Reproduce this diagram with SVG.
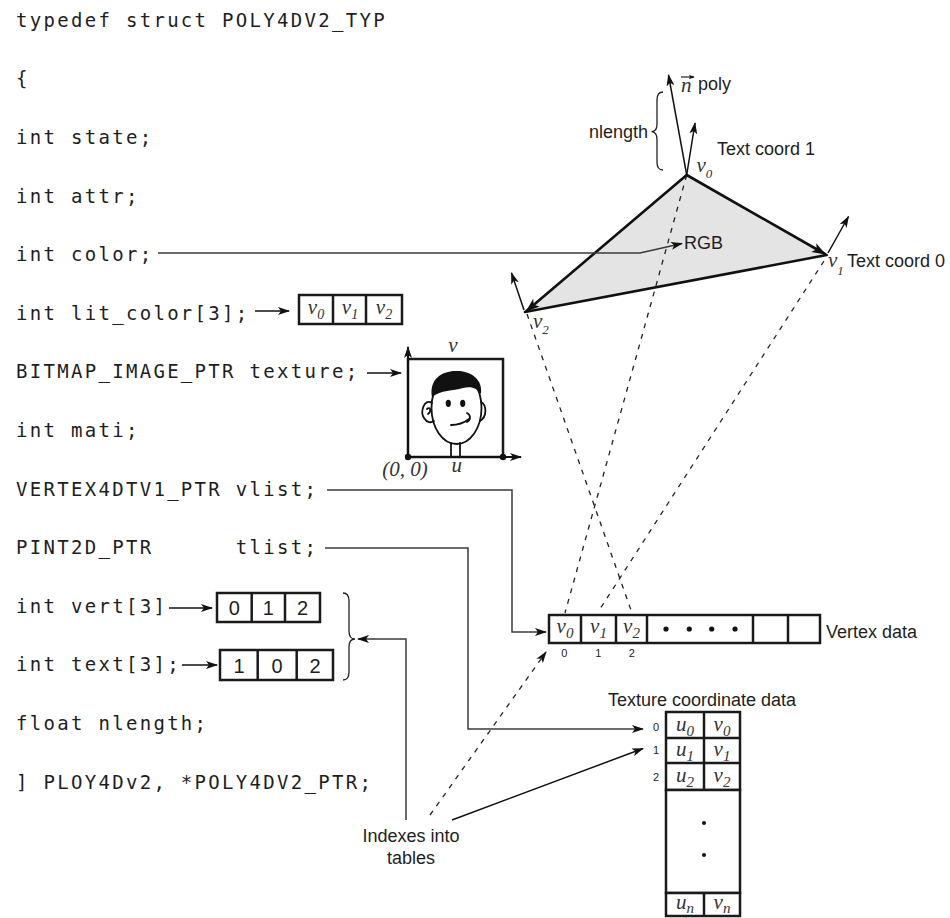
<svg xmlns="http://www.w3.org/2000/svg" width="950" height="918" viewBox="0 0 950 918">
  <style>
    .code { font-family: "DejaVu Sans Mono", "Liberation Mono", monospace; font-size: 19px; letter-spacing: 2.3px; fill: #1e1e1e; white-space: pre; }
    .lbl { font-family: "Liberation Sans", Arial, sans-serif; font-size: 18px; fill: #1e1e1e; }
    .idx { font-family: "Liberation Sans", Arial, sans-serif; font-size: 11px; fill: #222; text-anchor: middle; }
    .num { font-family: "Liberation Sans", Arial, sans-serif; font-size: 20px; fill: #1e1e1e; text-anchor: middle; }
    .var { font-family: "Liberation Serif", "Times New Roman", serif; font-style: italic; font-size: 21px; fill: #333; }
    .cell { text-anchor: middle; }
    .box { fill: #fff; stroke: #1a1a1a; stroke-width: 2.5; }
    .div { stroke: #1a1a1a; stroke-width: 2.5; }
    .wire { fill: none; stroke: #3a3a3a; stroke-width: 1.5; }
    .arr { fill: none; stroke: #111; stroke-width: 1.5; marker-end: url(#ah); }
    .dash { fill: none; stroke: #222; stroke-width: 1.3; stroke-dasharray: 5 6; }
    .edge { stroke: #111; stroke-width: 2.6; stroke-linecap: round; }
    .face { fill: none; stroke: #111; stroke-width: 1.8; stroke-linecap: round; }
  </style>
  <defs>
    <marker id="ah" viewBox="0 0 12 8" refX="11" refY="4" markerWidth="12" markerHeight="8" orient="auto" markerUnits="userSpaceOnUse">
      <path d="M0,0 L12,4 L0,8 L3,4 Z" fill="#111"/>
    </marker>
    <marker id="ahb" viewBox="0 0 14 10" refX="13" refY="5" markerWidth="14" markerHeight="10" orient="auto" markerUnits="userSpaceOnUse">
      <path d="M0,0 L14,5 L0,10 L3.5,5 Z" fill="#111"/>
    </marker>
    <marker id="ahs" viewBox="0 0 8 6" refX="7" refY="3" markerWidth="6" markerHeight="5" orient="auto" markerUnits="userSpaceOnUse">
      <path d="M0,0 L8,3 L0,6 L2,3 Z" fill="#111"/>
    </marker>
  </defs>

  <!-- struct declaration -->
  <g id="code">
    <text class="code" x="16" y="26.7">typedef struct POLY4DV2_TYP</text>
    <text class="code" x="16" y="85.3">{</text>
    <text class="code" x="16" y="143.9">int state;</text>
    <text class="code" x="16" y="202.5">int attr;</text>
    <text class="code" x="16" y="261.1">int color;</text>
    <text class="code" x="16" y="319.7">int lit_color[3];</text>
    <text class="code" x="16" y="378.3">BITMAP_IMAGE_PTR texture;</text>
    <text class="code" x="16" y="436.9">int mati;</text>
    <text class="code" x="16" y="495.5">VERTEX4DTV1_PTR vlist;</text>
    <text class="code" x="16" y="554.1">PINT2D_PTR      tlist;</text>
    <text class="code" x="16" y="612.7">int vert[3]</text>
    <text class="code" x="16" y="671.3">int text[3];</text>
    <text class="code" x="16" y="729.9">float nlength;</text>
    <text class="code" x="16" y="788.5">] PLOY4Dv2, *POLY4DV2_PTR;</text>
  </g>

  <!-- triangle with vertex normals -->
  <g id="polygon">
    <polygon points="686.7,175 826.7,255 525,312" fill="#e4e4e4"/>
    <line class="dash" x1="686.7" y1="175" x2="565" y2="613"/>
    <line class="dash" x1="824" y1="261" x2="600" y2="609"/>
    <line class="dash" x1="527" y1="314" x2="632" y2="613"/>
    <line class="edge" x1="826.7" y1="255" x2="525" y2="312"/>
    <line class="edge" x1="686.7" y1="175" x2="825" y2="254" marker-end="url(#ahb)"/>
    <line class="edge" x1="686.7" y1="175" x2="526.5" y2="311" marker-end="url(#ahb)"/>
    <line class="arr" x1="686.7" y1="175" x2="668.5" y2="75"/>
    <line class="arr" x1="686.7" y1="175" x2="695" y2="123"/>
    <line class="arr" x1="828" y1="253" x2="848.5" y2="216.5"/>
    <line class="arr" x1="524" y1="310" x2="511.5" y2="273"/>
    <path d="M663,92 Q657,92 657,100 L657,124 Q657,131.5 651.5,131.7 Q657,132 657,139.5 L657,162 Q657,170 663,170" fill="none" stroke="#222" stroke-width="1.3"/>
    <text class="lbl" x="648" y="137.5" text-anchor="end">nlength</text>
    <line x1="681" y1="77" x2="694" y2="77" stroke="#111" stroke-width="1.1" marker-end="url(#ahs)"/>
    <text class="var" x="681" y="92" font-size="20">n</text>
    <text class="lbl" x="698" y="90">poly</text>
    <text class="lbl" x="717" y="155">Text coord 1</text>
    <text class="lbl" x="847" y="267">Text coord 0</text>
    <text class="lbl" x="684" y="248.5">RGB</text>
    <text class="var" x="696.5" y="172" font-size="18">v<tspan dy="6" font-size="13">0</tspan></text>
    <text class="var" x="828" y="267" font-size="18">v<tspan dy="8" font-size="13">1</tspan></text>
    <text class="var" x="533" y="328" font-size="18">v<tspan dy="6" font-size="13">2</tspan></text>
  </g>

  <!-- connectors -->
  <g id="connectors">
    <polyline class="wire" points="158,253 640,253 682,243.5" marker-end="url(#ah)"/>
    <line class="arr" x1="255" y1="311" x2="289" y2="311"/>
    <line class="arr" x1="367" y1="373" x2="401" y2="373"/>
    <line class="arr" x1="169" y1="608" x2="212" y2="608"/>
    <line class="arr" x1="182" y1="665" x2="217" y2="665"/>
    <polyline class="wire" points="327,490 512,490 512,632 546,632" marker-end="url(#ah)"/>
    <polyline class="wire" points="325,548 468,548 468,729 643,729" marker-end="url(#ah)"/>
    <polyline class="wire" points="406,820 406,639 358,639" marker-end="url(#ah)"/>
    <line class="arr" x1="452" y1="820" x2="643" y2="748.5"/>
    <line class="dash" x1="430" y1="815" x2="546" y2="652" marker-end="url(#ah)"/>
  </g>

  <!-- lit_color array -->
  <g id="lit-color">
    <rect class="box" x="299" y="295" width="103" height="29"/>
    <line class="div" x1="333" y1="295" x2="333" y2="324"/>
    <line class="div" x1="366" y1="295" x2="366" y2="324"/>
    <text class="var cell" x="316" y="314" font-size="19">v<tspan dy="5" font-size="14">0</tspan></text>
    <text class="var cell" x="350" y="314" font-size="19">v<tspan dy="5" font-size="14">1</tspan></text>
    <text class="var cell" x="384" y="314" font-size="19">v<tspan dy="5" font-size="14">2</tspan></text>
  </g>

  <!-- texture bitmap -->
  <g id="texture">
    <rect class="box" x="408" y="359" width="95" height="98"/>
    <line x1="408" y1="457" x2="408" y2="347" stroke="#111" stroke-width="2" marker-end="url(#ah)"/>
    <line x1="408" y1="457" x2="521" y2="457" stroke="#111" stroke-width="2" marker-end="url(#ah)"/>
    <circle cx="408" cy="457" r="3.2" fill="#111"/>
    <circle cx="503" cy="457" r="3.2" fill="#111"/>
    <ellipse class="face" cx="456.5" cy="408" rx="25" ry="36"/>
    <path d="M432,397 C429,380 441,371 456,371 C471,371 483,379 481,394 C477,388 471,386 463,388 C453,391 441,390 432,397 Z" fill="#111"/>
    <ellipse cx="448.3" cy="403.3" rx="2.6" ry="3.6" fill="#111"/>
    <ellipse cx="462.7" cy="403.3" rx="2.6" ry="3.6" fill="#111"/>
    <path class="face" d="M432,403 C424,398 420,412 424,418 C427,423 431,423 434,421"/>
    <path class="face" d="M427,409 C430,406 432,411 428,414"/>
    <path class="face" d="M481,402 C487,405 487,417 480,421"/>
    <path class="face" d="M451,425 C458,425 464,423 469,419"/>
    <path class="face" d="M467,413 C471,415 471,420 467,422"/>
    <line class="face" x1="451" y1="443" x2="451" y2="456"/>
    <line class="face" x1="460" y1="443" x2="460" y2="456"/>
    <text class="var" x="453" y="352" text-anchor="middle" font-size="20">v</text>
    <text class="var" x="456.7" y="472" text-anchor="middle" font-size="20">u</text>
    <text class="var" x="405" y="476" text-anchor="middle" font-size="13" fill="#666">(0, 0)</text>
  </g>

  <!-- index arrays -->
  <g id="vert">
    <rect class="box" x="217" y="593" width="103" height="29"/>
    <line class="div" x1="251.7" y1="593" x2="251.7" y2="622"/>
    <line class="div" x1="285" y1="593" x2="285" y2="622"/>
    <text class="num" x="234.3" y="615">0</text>
    <text class="num" x="268.3" y="615">1</text>
    <text class="num" x="302.5" y="615">2</text>
  </g>
  <g id="text-idx">
    <rect class="box" x="220" y="650" width="113" height="30"/>
    <line class="div" x1="257.7" y1="650" x2="257.7" y2="680"/>
    <line class="div" x1="296.7" y1="650" x2="296.7" y2="680"/>
    <text class="num" x="239" y="672.5">1</text>
    <text class="num" x="277" y="672.5">0</text>
    <text class="num" x="315" y="672.5">2</text>
  </g>
  <g id="index-brace">
    <path d="M343,593 Q349,593 349,601 L349,631 Q349,639 355,639 Q349,639 349,647 L349,672 Q349,680 343,680" fill="none" stroke="#222" stroke-width="1.3"/>
  </g>
  <g id="indexes-label">
    <text class="lbl" x="411" y="842" text-anchor="middle">Indexes into</text>
    <text class="lbl" x="411" y="864" text-anchor="middle">tables</text>
  </g>

  <!-- vertex list -->
  <g id="vertex-data">
    <rect class="box" x="549" y="615" width="271" height="28"/>
    <line class="div" x1="581" y1="615" x2="581" y2="643"/>
    <line class="div" x1="616" y1="615" x2="616" y2="643"/>
    <line class="div" x1="647" y1="615" x2="647" y2="643"/>
    <line class="div" x1="753" y1="615" x2="753" y2="643"/>
    <line class="div" x1="788" y1="615" x2="788" y2="643"/>
    <text class="var cell" x="565" y="633">v<tspan dy="5" font-size="15">0</tspan></text>
    <text class="var cell" x="598.5" y="633">v<tspan dy="5" font-size="15">1</tspan></text>
    <text class="var cell" x="631.5" y="633">v<tspan dy="5" font-size="15">2</tspan></text>
    <circle cx="666" cy="629" r="2.6" fill="#111"/>
    <circle cx="689.3" cy="629" r="2.6" fill="#111"/>
    <circle cx="711.7" cy="629" r="2.6" fill="#111"/>
    <circle cx="735" cy="629" r="2.6" fill="#111"/>
    <text class="idx" x="564.3" y="657">0</text>
    <text class="idx" x="598.3" y="657">1</text>
    <text class="idx" x="631.7" y="657">2</text>
    <text class="lbl" x="826" y="638">Vertex data</text>
  </g>

  <!-- texture coordinate list -->
  <g id="texture-data">
    <text class="lbl" x="608" y="706">Texture coordinate data</text>
    <rect class="box" x="666" y="712" width="74" height="78"/>
    <line class="div" x1="666" y1="738" x2="740" y2="738"/>
    <line class="div" x1="666" y1="763" x2="740" y2="763"/>
    <line class="div" x1="704" y1="712" x2="704" y2="790"/>
    <rect class="box" x="666" y="790" width="74" height="103"/>
    <circle cx="704" cy="823" r="2" fill="#111"/>
    <circle cx="704" cy="855" r="2" fill="#111"/>
    <rect class="box" x="666" y="893" width="74" height="23"/>
    <line class="div" x1="704" y1="893" x2="704" y2="916"/>
    <text class="var cell" x="685" y="731">u<tspan dy="5" font-size="15">0</tspan></text>
    <text class="var cell" x="722" y="731">v<tspan dy="5" font-size="15">0</tspan></text>
    <text class="var cell" x="685" y="756">u<tspan dy="5" font-size="15">1</tspan></text>
    <text class="var cell" x="722" y="756">v<tspan dy="5" font-size="15">1</tspan></text>
    <text class="var cell" x="685" y="782">u<tspan dy="5" font-size="15">2</tspan></text>
    <text class="var cell" x="722" y="782">v<tspan dy="5" font-size="15">2</tspan></text>
    <text class="var cell" x="685" y="909">u<tspan dy="4" font-size="15">n</tspan></text>
    <text class="var cell" x="722" y="909">v<tspan dy="4" font-size="15">n</tspan></text>
    <text class="idx" x="656" y="730.5">0</text>
    <text class="idx" x="656" y="754">1</text>
    <text class="idx" x="656" y="780.5">2</text>
  </g>
</svg>
